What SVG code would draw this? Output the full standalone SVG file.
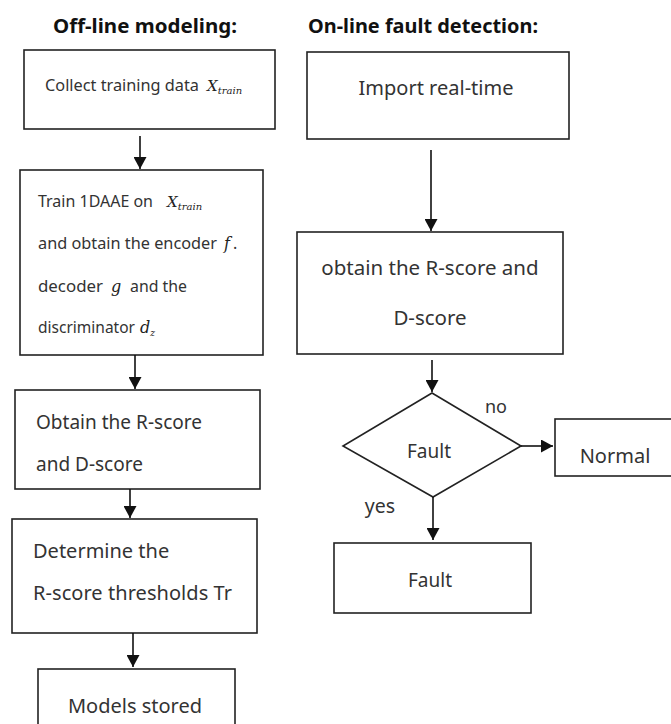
<svg xmlns="http://www.w3.org/2000/svg" width="671" height="724" viewBox="0 0 671 724">
<defs>
<marker id="arr" viewBox="0 0 10 10" refX="10" refY="5" markerWidth="12" markerHeight="13" markerUnits="userSpaceOnUse" orient="auto" preserveAspectRatio="none">
<path d="M0,0 L10,5 L0,10 Z" fill="#111"/>
</marker>
<style>
.box{fill:#fff;stroke:#222;stroke-width:1.6}
.t{font-family:"Noto Sans","Open Sans","Liberation Sans",sans-serif;fill:#333}
.h{font-family:"Noto Sans","Open Sans","Liberation Sans",sans-serif;font-weight:bold;font-size:20px;fill:#111}
.m{font-family:"DejaVu Serif","Liberation Serif",serif;font-style:italic;fill:#222}
.c{stroke:#111;stroke-width:1.6;fill:none}
</style>
</defs>
<rect width="671" height="724" fill="#fff"/>
<text class="h" x="53" y="33" textLength="184" lengthAdjust="spacingAndGlyphs">Off-line modeling:</text>
<text class="h" x="308" y="33" textLength="230" lengthAdjust="spacingAndGlyphs">On-line fault detection:</text>

<g id="collect">
<rect class="box" x="24" y="50" width="251" height="79"/>
<text class="t" x="45" y="91" font-size="16" textLength="154" lengthAdjust="spacingAndGlyphs">Collect training data</text>
<text class="m" x="207" y="91" font-size="15">X<tspan font-size="10" dy="3">train</tspan></text>
</g>
<g id="train">
<rect class="box" x="20" y="170" width="243" height="185"/>
<text class="t" x="38" y="207" font-size="16" textLength="115" lengthAdjust="spacingAndGlyphs">Train 1DAAE on</text>
<text class="m" x="167" y="207" font-size="15">X<tspan font-size="10" dy="3">train</tspan></text>
<text class="t" x="38" y="249" font-size="16" textLength="179" lengthAdjust="spacingAndGlyphs">and obtain the encoder</text>
<text class="m" x="224" y="249" font-size="16">f<tspan class="t" font-style="normal" dx="3">.</tspan></text>
<text class="t" x="38" y="292" font-size="16" textLength="65" lengthAdjust="spacingAndGlyphs">decoder</text>
<text class="m" x="111" y="292" font-size="16">g</text>
<text class="t" x="130" y="292" font-size="16" textLength="57" lengthAdjust="spacingAndGlyphs">and the</text>
<text class="t" x="38" y="333" font-size="16" textLength="97" lengthAdjust="spacingAndGlyphs">discriminator</text>
<text class="m" x="140" y="333" font-size="16">d<tspan font-size="9" dy="3">z</tspan></text>
</g>
<g id="obtain1">
<rect class="box" x="15" y="390" width="245" height="99"/>
<text class="t" x="36" y="429" font-size="19" textLength="166">Obtain the R-score</text>
<text class="t" x="36" y="471" font-size="19">and D-score</text>
</g>
<g id="determine">
<rect class="box" x="12" y="519" width="245" height="114"/>
<text class="t" x="33" y="558" font-size="20">Determine the</text>
<text class="t" x="33" y="600" font-size="20" textLength="199">R-score thresholds Tr</text>
</g>
<g id="models">
<rect class="box" x="38" y="669" width="197" height="70"/>
<text class="t" x="135" y="713" font-size="20" text-anchor="middle">Models stored</text>
</g>

<g id="import">
<rect class="box" x="307" y="52" width="262" height="87"/>
<text class="t" x="436" y="95" font-size="20" text-anchor="middle">Import real-time</text>
</g>
<g id="obtain2">
<rect class="box" x="297" y="232" width="266" height="122"/>
<text class="t" x="430" y="275" font-size="20.5" text-anchor="middle">obtain the R-score and</text>
<text class="t" x="430" y="325" font-size="20.5" text-anchor="middle">D-score</text>
</g>
<g id="decision">
<polygon class="box" points="432,393 521,446 433,497 343,446"/>
<text class="t" x="429" y="458" font-size="19" text-anchor="middle">Fault</text>
</g>
<g id="normal">
<rect class="box" x="555" y="419" width="130" height="57"/>
<text class="t" x="615" y="463" font-size="20" text-anchor="middle">Normal</text>
</g>
<g id="fault">
<rect class="box" x="334" y="543" width="197" height="70"/>
<text class="t" x="430" y="587" font-size="19" text-anchor="middle">Fault</text>
</g>

<g id="connectors">
<line class="c" x1="140" y1="136" x2="140" y2="169" marker-end="url(#arr)"/>
<line class="c" x1="135" y1="355" x2="135" y2="389" marker-end="url(#arr)"/>
<line class="c" x1="130" y1="489" x2="130" y2="518" marker-end="url(#arr)"/>
<line class="c" x1="133" y1="633" x2="133" y2="667" marker-end="url(#arr)"/>
<line class="c" x1="431" y1="150" x2="431" y2="231" marker-end="url(#arr)"/>
<line class="c" x1="432" y1="360" x2="432" y2="392" marker-end="url(#arr)"/>
<line class="c" x1="521" y1="446" x2="553" y2="446" marker-end="url(#arr)"/>
<line class="c" x1="433" y1="497" x2="433" y2="540" marker-end="url(#arr)"/>
<text class="t" x="496" y="413" font-size="18" text-anchor="middle">no</text>
<text class="t" x="380" y="513" font-size="19.5" text-anchor="middle">yes</text>
</g>
</svg>
